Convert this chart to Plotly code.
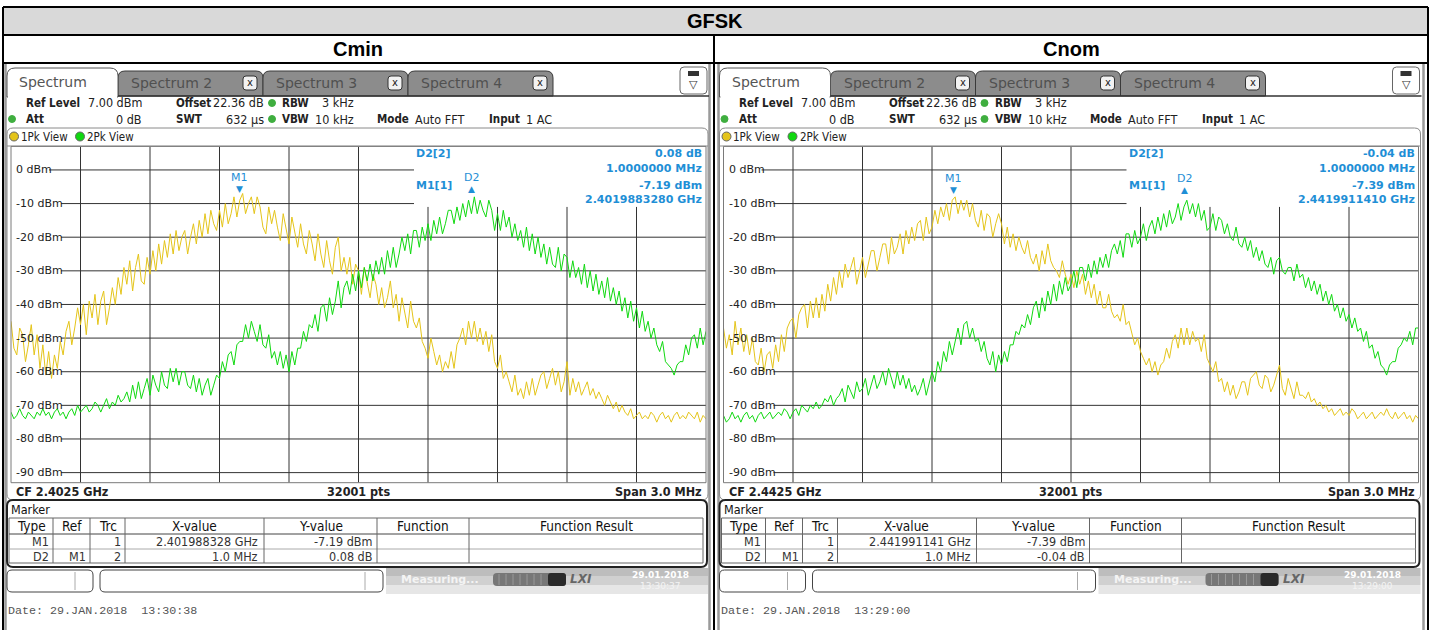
import numpy as np
import plotly.graph_objects as go

# ---------------- data ----------------
PANEL_TITLES = ["Cmin", "Cnom"]
CENTER_FREQ_TEXT = ["CF 2.4025 GHz", "CF 2.4425 GHz"]
START_GHZ = [2.401, 2.441]
SPAN_GHZ = 0.003
Y_TICKS = [0, -10, -20, -30, -40, -50, -60, -70, -80, -90]
Y_RANGE = [-93, 7]

# trace 1 (yellow, 1Pk View) and trace 2 (green, 2Pk View) in dBm, evenly spaced over the span
LEFT_TRACE1 = [
    -45,-53,-55,-47, -49,-57,-52,-46, -55,-49,-59,-52, -61,-54,-62,-55, -59,-51,-55,-48,
    -45,-52,-47,-41, -46,-40,-49,-39, -44,-37,-46,-39, -36,-46,-41,-35, -40,-32,-37,-29,
    -34,-27,-36,-29, -25,-33,-34,-26, -31,-24,-30,-22, -28,-21,-26,-19, -25,-18,-24,-20,
    -18,-25,-20,-16, -22,-15,-20,-13, -19,-12,-16,-18, -12,-17,-10,-16, -13,-8,-14,-9,
    -7,-13,-10,-8, -13,-8,-11,-17, -19,-11,-16,-12, -17,-21,-13,-18, -22,-14,-18,-23,
    -16,-22,-25,-18, -22,-27,-19,-25, -29,-21,-27,-31, -23,-20,-30,-26, -31,-26,-34,-28,
    -30,-37,-29,-34, -38,-31,-34,-40, -35,-41,-38,-33, -41,-37,-45,-38, -42,-47,-39,-45,
    -47,-44,-51,-53, -56,-50,-54,-58, -55,-60,-57,-59, -54,-59,-52,-50, -47,-52,-45,-50,
    -45,-51,-47,-52, -48,-54,-49,-57, -59,-55,-62,-60, -63,-66,-61,-67, -65,-68,-63,-67,
    -62,-67,-64,-61, -60,-65,-62,-59, -64,-60,-66,-63, -57,-67,-62,-66, -63,-67,-65,-63,
    -67,-65,-68,-66, -68,-70,-67,-69, -71,-69,-72,-70, -72,-73,-71,-74, -73,-72,-74,-73,
    -74,-72,-73,-75, -73,-72,-74,-73, -75,-73,-72,-74, -73,-74,-72,-73, -74,-72,-75,-73,
    -74]
LEFT_TRACE2 = [
    -72,-74,-73,-71, -73,-74,-72,-73, -74,-72,-73,-71, -73,-72,-74,-72, -71,-73,-72,-74,
    -72,-71,-73,-70, -72,-71,-70,-72, -71,-69,-70,-72, -70,-68,-71,-69, -70,-67,-69,-68,
    -66,-69,-64,-68, -63,-68,-65,-62, -67,-61,-64,-66, -60,-64,-65,-59, -63,-59,-64,-60,
    -60,-64,-65,-61, -66,-62,-67,-64, -62,-67,-64,-61, -62,-57,-60,-55, -54,-58,-52,-51,
    -51,-46,-50,-45, -48,-51,-46,-52, -53,-49,-56,-54, -58,-54,-59,-55, -60,-54,-58,-53,
    -53,-48,-51,-46, -47,-43,-48,-41, -40,-45,-38,-43, -39,-33,-41,-35, -33,-37,-31,-36,
    -30,-35,-29,-33, -28,-33,-27,-31, -26,-31,-24,-29, -23,-29,-25,-20, -24,-19,-25,-18,
    -18,-23,-17,-21, -16,-21,-15,-19, -14,-19,-16,-12, -12,-16,-11,-15, -10,-14,-9,-13,
    -8,-13,-9,-12, -14,-9,-12,-18, -13,-18,-12,-17, -14,-20,-16,-21, -18,-23,-17,-24,
    -19,-25,-20,-26, -22,-28,-23,-28, -29,-23,-30,-25, -26,-32,-27,-32, -29,-34,-28,-35,
    -30,-36,-31,-37, -33,-38,-32,-39, -35,-40,-36,-42, -38,-44,-39,-45, -41,-47,-42,-48,
    -45,-50,-47,-52, -54,-51,-57,-58, -59,-61,-58,-57, -57,-52,-55,-50, -49,-53,-47,-52,
    -48]
RIGHT_TRACE1 = [
    -47,-53,-49,-55, -45,-52,-47,-54, -49,-55,-50,-57, -58,-53,-60,-55, -54,-59,-52,-57,
    -49,-54,-47,-45, -44,-50,-43,-41, -40,-47,-39,-44, -38,-44,-37,-42, -34,-39,-32,-37,
    -30,-35,-28,-32, -29,-26,-34,-30, -26,-32,-28,-24, -24,-30,-26,-22, -22,-28,-20,-25,
    -23,-19,-25,-18, -22,-17,-21,-16, -15,-21,-14,-19, -17,-12,-16,-11, -14,-10,-15,-9,
    -8,-13,-9,-12, -9,-14,-10,-15, -17,-12,-18,-13, -14,-20,-16,-13, -16,-22,-17,-23,
    -19,-24,-20,-23, -25,-21,-26,-28, -25,-30,-24,-28, -22,-27,-29,-30, -32,-27,-31,-34,
    -31,-35,-30,-34, -31,-37,-33,-38, -34,-40,-36,-41, -41,-37,-42,-44, -43,-45,-40,-46,
    -45,-49,-52,-50, -54,-56,-58,-56, -60,-57,-61,-58, -57,-53,-56,-51, -49,-53,-47,-52,
    -47,-52,-48,-51, -50,-54,-49,-56, -58,-60,-57,-63, -62,-66,-63,-67, -64,-68,-66,-63,
    -63,-67,-62,-61, -60,-64,-65,-61, -62,-66,-64,-61, -58,-65,-67,-62, -65,-68,-63,-67,
    -67,-68,-66,-69, -68,-70,-69,-71, -70,-72,-71,-73, -72,-71,-73,-72, -73,-71,-72,-74,
    -73,-72,-74,-73, -72,-74,-73,-72, -73,-71,-73,-74, -72,-74,-73,-72, -74,-73,-75,-73,
    -74]
RIGHT_TRACE2 = [
    -73,-75,-74,-72, -74,-73,-75,-73, -72,-74,-73,-75, -73,-72,-74,-73, -72,-74,-73,-72,
    -73,-71,-72,-74, -72,-71,-73,-70, -71,-72,-70,-71, -69,-71,-70,-68, -69,-67,-70,-68,
    -67,-65,-69,-64, -66,-68,-63,-66, -65,-62,-67,-64, -61,-65,-63,-60, -64,-59,-62,-65,
    -60,-64,-61,-65, -62,-66,-64,-67, -65,-62,-67,-63, -60,-63,-57,-60, -54,-57,-51,-55,
    -51,-47,-52,-46, -45,-50,-47,-51, -50,-54,-51,-56, -58,-54,-60,-55, -58,-54,-57,-52,
    -52,-48,-49,-46, -47,-43,-46,-41, -39,-44,-38,-42, -36,-40,-34,-39, -33,-37,-32,-36,
    -34,-30,-35,-29, -29,-33,-28,-32, -27,-31,-26,-29, -25,-29,-24,-22, -25,-21,-26,-19,
    -19,-23,-18,-22, -20,-16,-21,-17, -15,-19,-14,-18, -13,-17,-12,-16, -14,-10,-15,-11,
    -9,-13,-10,-14, -10,-15,-12,-18, -17,-13,-18,-14, -15,-19,-16,-20, -21,-17,-22,-23,
    -20,-24,-21,-26, -23,-27,-24,-28, -29,-26,-31,-27, -26,-30,-31,-29, -29,-33,-28,-32,
    -31,-35,-32,-36, -33,-37,-34,-39, -36,-40,-37,-42, -40,-44,-41,-45, -43,-47,-44,-48,
    -47,-51,-48,-53, -52,-56,-54,-58, -59,-61,-58,-57, -57,-53,-52,-50, -51,-48,-52,-47,
    -47]

M1_FREQ_GHZ = [2.401988328, 2.441991141]
M1_LEVEL_DBM = [-7.19, -7.39]
D2_DELTA_DB = [0.08, -0.04]
D2_DELTA_MHZ = 1.0
M1_FREQ_TEXT = ["2.4019883280 GHz", "2.4419911410 GHz"]
M1_TABLE_X = ["2.401988328 GHz", "2.441991141 GHz"]
DATE_TEXT = ["Date: 29.JAN.2018  13:30:38", "Date: 29.JAN.2018  13:29:00"]
CLOCK_TEXT = ["13:30:37", "13:29:00"]

# ---------------- styling ----------------
W, H = 1434, 630
FONT = "DejaVu Sans"
CFONT = "DejaVu Sans Condensed, DejaVu Sans"
YELLOW = "#e4c41a"
GREEN = "#10d810"
BLUE = "#1f8fd6"
DOT_GREEN = "#3fae3f"

shapes, ann = [], []


def X(p):
    return p / W


def Y(p):
    return 1 - p / H


def rect(x0, y0, x1, y1, fill="rgba(0,0,0,0)", line=None, lw=1):
    shapes.append(dict(type="rect", xref="paper", yref="paper", x0=X(x0), x1=X(x1),
                       y0=Y(y1), y1=Y(y0), fillcolor=fill, layer="above",
                       line=dict(color=line or "rgba(0,0,0,0)", width=lw if line else 0)))


def rr(x0, y0, x1, y1, r=4, top=True, bottom=True, fill="rgba(0,0,0,0)", line=None, lw=1):
    rt = r if top else 0
    rb = r if bottom else 0
    p = (f"M{X(x0)},{Y(y0 + rt)} Q{X(x0)},{Y(y0)} {X(x0 + rt)},{Y(y0)} "
         f"L{X(x1 - rt)},{Y(y0)} Q{X(x1)},{Y(y0)} {X(x1)},{Y(y0 + rt)} "
         f"L{X(x1)},{Y(y1 - rb)} Q{X(x1)},{Y(y1)} {X(x1 - rb)},{Y(y1)} "
         f"L{X(x0 + rb)},{Y(y1)} Q{X(x0)},{Y(y1)} {X(x0)},{Y(y1 - rb)} Z")
    shapes.append(dict(type="path", xref="paper", yref="paper", path=p, fillcolor=fill,
                       layer="above",
                       line=dict(color=line or "rgba(0,0,0,0)", width=lw if line else 0)))


def hline(x0, x1, y, color, lw=1):
    shapes.append(dict(type="line", xref="paper", yref="paper", x0=X(x0), x1=X(x1),
                       y0=Y(y), y1=Y(y), line=dict(color=color, width=lw), layer="above"))


def vline(x, y0, y1, color, lw=1):
    shapes.append(dict(type="line", xref="paper", yref="paper", x0=X(x), x1=X(x),
                       y0=Y(y0), y1=Y(y1), line=dict(color=color, width=lw), layer="above"))


def circle(cx, cy, r, fill, line=None):
    shapes.append(dict(type="circle", xref="paper", yref="paper", x0=X(cx - r), x1=X(cx + r),
                       y0=Y(cy + r), y1=Y(cy - r), fillcolor=fill, layer="above",
                       line=dict(color=line or fill, width=1)))


def t(x, y, s, size=11, color="#222", anchor="left", family=FONT):
    ann.append(dict(xref="paper", yref="paper", x=X(x), y=Y(y), text=s, showarrow=False,
                    xanchor=anchor, yanchor="middle", borderpad=0,
                    font=dict(family=family, size=size, color=color)))


# ---------------- global frame ----------------
rect(3, 7, 1428, 35, fill="#d9d9d9")
t(715, 21, "<b>GFSK</b>", size=20, color="#000", anchor="center", family="Liberation Sans")
for i, title in enumerate(PANEL_TITLES):
    t(358 + i * 713, 49, f"<b>{title}</b>", size=20, color="#000", anchor="center",
      family="Liberation Sans")
hline(3, 1428, 7, "#000", 2)
hline(3, 1428, 35, "#000", 2)
hline(3, 1428, 63, "#000", 2)
vline(3, 7, 630, "#000", 2)
vline(1428, 7, 630, "#000", 2)
vline(714, 35, 630, "#000", 2)
for gx in (5.5, 709.5, 718.5, 1423.5):
    vline(gx, 64, 630, "#9a9a9a", 2.5)

fig = go.Figure()

SS = 12.5   # settings-row value text size
SB = 11.5   # settings-row bold label size

for i in range(2):
    dx = i * 712.5
    xa = "x" if i == 0 else "x2"
    ya = "y" if i == 0 else "y2"
    x0g = START_GHZ[i]
    tr1 = LEFT_TRACE1 if i == 0 else RIGHT_TRACE1
    tr2 = LEFT_TRACE2 if i == 0 else RIGHT_TRACE2
    f1 = np.linspace(x0g, x0g + SPAN_GHZ, len(tr1))
    f2 = np.linspace(x0g, x0g + SPAN_GHZ, len(tr2))
    fig.add_trace(go.Scatter(x=f1, y=tr1, mode="lines", line=dict(color=YELLOW, width=1),
                             xaxis=xa, yaxis=ya, hoverinfo="skip"))
    fig.add_trace(go.Scatter(x=f2, y=tr2, mode="lines", line=dict(color=GREEN, width=1),
                             xaxis=xa, yaxis=ya, hoverinfo="skip"))

    # ---- tabs ----
    for k, (a, b) in enumerate([(118, 263), (263, 408), (408, 553)]):
        rr(dx + a, 71, dx + b, 96, r=7, bottom=False, fill="#8c8c8c", line="#3a3a3a")
        t(dx + a + 12, 83, f"Spectrum {k + 2}", size=14, color="#505050")
        rr(dx + b - 20, 76, dx + b - 6, 90, r=3, fill="#f2f2f2", line="#333")
        t(dx + b - 13, 82.5, "x", size=10, color="#222", anchor="center")
    rr(dx + 7, 68, dx + 118, 97, r=8, bottom=False, fill="white", line="#555")
    hline(dx + 8, dx + 117, 97, "white", 2)
    hline(dx + 118, dx + 709, 96, "#333", 1.5)
    t(dx + 18, 82, "Spectrum", size=14, color="#555")
    rr(dx + 680, 67, dx + 707, 94, r=4, fill="white", line="#666")
    rect(dx + 688, 71, dx + 699, 76, fill="#333")
    t(dx + 693.5, 85, "▽", size=11, color="#333", anchor="center")

    # ---- settings rows ----
    t(dx + 25, 103, "<b>Ref Level</b>", size=SB, family=CFONT)
    t(dx + 143, 103, "7.00 dBm", size=SS, anchor="right", family=CFONT)
    t(dx + 175, 103, "<b>Offset</b>", size=SB, family=CFONT)
    t(dx + 265, 103, "22.36 dB", size=SS, anchor="right", family=CFONT)
    circle(dx + 272, 103, 3.5, DOT_GREEN)
    t(dx + 281, 103, "<b>RBW</b>", size=SB, family=CFONT)
    t(dx + 355, 103, "3 kHz", size=SS, anchor="right", family=CFONT)
    circle(dx + 12, 119, 3.5, DOT_GREEN)
    t(dx + 25, 119, "<b>Att</b>", size=SB, family=CFONT)
    t(dx + 143, 119, "0 dB", size=SS, anchor="right", family=CFONT)
    t(dx + 175, 119, "<b>SWT</b>", size=SB, family=CFONT)
    t(dx + 265, 119, "632 µs", size=SS, anchor="right", family=CFONT)
    circle(dx + 272, 119, 3.5, DOT_GREEN)
    t(dx + 281, 119, "<b>VBW</b>", size=SB, family=CFONT)
    t(dx + 355, 119, "10 kHz", size=SS, anchor="right", family=CFONT)
    t(dx + 376, 119, "<b>Mode</b>", size=SB, family=CFONT)
    t(dx + 414, 119, "Auto FFT", size=SS, family=CFONT)
    t(dx + 488, 119, "<b>Input</b>", size=SB, family=CFONT)
    t(dx + 525, 119, "1 AC", size=SS, family=CFONT)

    # ---- view bar and graph frame ----
    rr(dx + 7, 128, dx + 708, 500, r=6, line="#8a8a8a")
    hline(dx + 7, dx + 708, 146, "#8a8a8a", 1)
    circle(dx + 14, 136.5, 4.5, YELLOW, "#666")
    t(dx + 20, 136.5, "1Pk View", size=11.5, family=CFONT)
    circle(dx + 80, 136.5, 4.5, GREEN, "#666")
    t(dx + 86, 136.5, "2Pk View", size=11.5, family=CFONT)

    # ---- grid inside the diagram (axis coordinates) ----
    shapes.append(dict(type="rect", xref=f"{xa} domain", yref=f"{ya} domain", x0=0, x1=1,
                       y0=0, y1=1, line=dict(color="#7a7a7a", width=1), layer="above"))
    for k in range(1, 10):
        gx = x0g + k * SPAN_GHZ / 10
        top = Y_RANGE[1] if k <= 5 else -11
        shapes.append(dict(type="line", xref=xa, yref=ya, x0=gx, x1=gx, y0=Y_RANGE[0], y1=top,
                           line=dict(color="#333", width=1), layer="below"))
    for v in Y_TICKS:
        start = 38 / 695 if v == 0 else 50 / 695
        end = 403 / 695 if v >= -10 else 1
        shapes.append(dict(type="line", xref=f"{xa} domain", yref=ya, x0=start, x1=end,
                           y0=v, y1=v, line=dict(color="#333", width=1), layer="below"))
        ann.append(dict(xref=f"{xa} domain", yref=ya, x=4 / 695, y=v, text=f"{v} dBm",
                        showarrow=False, xanchor="left", yanchor="middle", borderpad=0,
                        font=dict(family=FONT, size=11, color="#222")))

    # ---- marker info block ----
    d2 = D2_DELTA_DB[i]
    t(dx + 415, 153, "<b>D2[2]</b>", color=BLUE)
    t(dx + 703, 153, f"<b>{d2:.2f} dB</b>", color=BLUE, anchor="right")
    t(dx + 703, 169, f"<b>{D2_DELTA_MHZ:.7f} MHz</b>", color=BLUE, anchor="right")
    t(dx + 415, 185, "<b>M1[1]</b>", color=BLUE)
    t(dx + 703, 185, f"<b>{M1_LEVEL_DBM[i]:.2f} dBm</b>", color=BLUE, anchor="right")
    t(dx + 703, 199, f"<b>{M1_FREQ_TEXT[i]}</b>", color=BLUE, anchor="right")

    m1x = M1_FREQ_GHZ[i]
    m1y = M1_LEVEL_DBM[i]
    d2x = m1x + D2_DELTA_MHZ / 1000
    d2y = m1y + d2
    for mx, my, sym, lab in [(m1x, m1y, "▼", "M1"), (d2x, d2y, "▲", "D2")]:
        ann.append(dict(xref=xa, yref=ya, x=mx, y=my, text=sym, showarrow=False,
                        xanchor="center", yanchor="bottom", yshift=-1, borderpad=0,
                        font=dict(family=FONT, size=9, color=BLUE)))
        ann.append(dict(xref=xa, yref=ya, x=mx, y=my, text=lab, showarrow=False,
                        xanchor="center", yanchor="bottom", yshift=9, borderpad=0,
                        font=dict(family=FONT, size=11, color=BLUE)))

    # ---- footer of diagram ----
    t(dx + 15, 491, f"<b>{CENTER_FREQ_TEXT[i]}</b>", size=12.5, family=CFONT)
    t(dx + 358, 491, "<b>32001 pts</b>", size=12.5, anchor="center", family=CFONT)
    t(dx + 703, 491, "<b>Span 3.0 MHz</b>", size=12.5, anchor="right", family=CFONT)

    # ---- marker table ----
    rr(dx + 7, 500, dx + 707, 567, r=6, fill="white", line="#222", lw=2)
    t(dx + 10, 509, "Marker", size=12.5, color="#111", family=CFONT)
    rect(dx + 9, 518, dx + 703, 563, line="#666")
    hline(dx + 9, dx + 703, 534, "#444", 1)
    hline(dx + 9, dx + 703, 549, "#aaa", 1)
    for cx in (53, 90, 125, 264, 377, 469):
        vline(dx + cx, 518, 563, "#666", 1)
    for cx, h in [(31, "Type"), (71.5, "Ref"), (107.5, "Trc"), (194.5, "X-value"),
                  (320.5, "Y-value"), (423, "Function"), (586, "Function Result")]:
        t(dx + cx, 526, h, size=13.5, color="#111", anchor="center", family=CFONT)
    row1 = [(50, "M1"), (122, "1"), (259, M1_TABLE_X[i]), (373, f"{M1_LEVEL_DBM[i]:.2f} dBm")]
    row2 = [(50, "D2"), (87, "M1"), (122, "2"), (259, f"{D2_DELTA_MHZ:.1f} MHz"),
            (373, f"{d2:.2f} dB")]
    for cx, s in row1:
        t(dx + cx, 541.5, s, size=12.5, color="#333", anchor="right", family=CFONT)
    for cx, s in row2:
        t(dx + cx, 556, s, size=12.5, color="#333", anchor="right", family=CFONT)

    # ---- status bar ----
    rr(dx + 7, 570, dx + 93, 592, r=5, fill="white", line="#444")
    vline(dx + 75, 572, 590, "#aaa")
    rr(dx + 100, 570, dx + 383, 592, r=5, fill="white", line="#444")
    vline(dx + 365, 572, 590, "#aaa")
    rect(dx + 386, 568, dx + 708, 576, fill="#bdbdbd")
    rect(dx + 386, 576, dx + 708, 585, fill="#d0d0d0")
    rect(dx + 386, 585, dx + 708, 594, fill="#e6e6e6")
    t(dx + 440, 579, "<b>Measuring...</b>", size=11, color="#f4f4f4", anchor="center")
    rr(dx + 493, 573, dx + 566, 586, r=4, fill="#777")
    rr(dx + 548, 573, dx + 566, 586, r=3, fill="#2a2a2a")
    for sx in range(499, 548, 7):
        vline(dx + sx, 574, 585, "#999", 1)
    t(dx + 581, 579, "<b><i>LXI</i></b>", size=12, color="#666", anchor="center")
    t(dx + 660, 575, "<b>29.01.2018</b>", size=9, color="#ffffff", anchor="center")
    t(dx + 660, 586, CLOCK_TEXT[i], size=9, color="#f4f4f4", anchor="center")

    t(dx + 7, 611, DATE_TEXT[i], size=11.7, color="#555", family="Liberation Mono")

axis_common = dict(visible=False, fixedrange=True)
fig.update_layout(
    width=W, height=H, margin=dict(l=0, r=0, t=0, b=0),
    paper_bgcolor="white", plot_bgcolor="rgba(0,0,0,0)", showlegend=False,
    font=dict(family=FONT),
    xaxis=dict(domain=[11 / W, 706 / W], range=[START_GHZ[0], START_GHZ[0] + SPAN_GHZ], **axis_common),
    yaxis=dict(domain=[Y(482.7), Y(146.4)], range=Y_RANGE, **axis_common),
    xaxis2=dict(domain=[723.5 / W, 1418.5 / W], range=[START_GHZ[1], START_GHZ[1] + SPAN_GHZ],
                anchor="y2", **axis_common),
    yaxis2=dict(domain=[Y(482.7), Y(146.4)], range=Y_RANGE, anchor="x2", **axis_common),
    shapes=shapes, annotations=ann,
)
fig.write_html("out.html", config={"displayModeBar": False},
               post_script="document.body.style.margin='0';document.body.style.overflow='hidden';")
